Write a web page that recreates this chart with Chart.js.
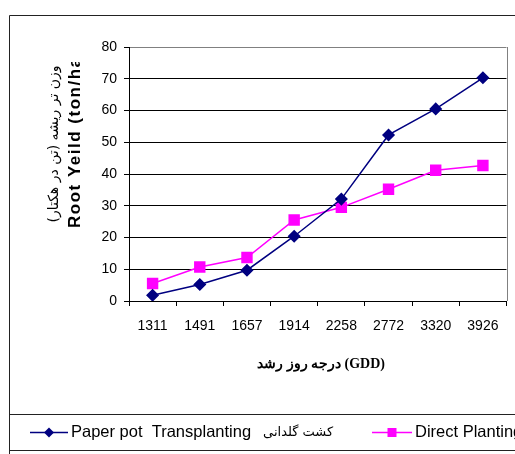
<!DOCTYPE html>
<html>
<head>
<meta charset="utf-8">
<script src="https://cdn.jsdelivr.net/npm/chart.js@4.4.1/dist/chart.umd.min.js"></script>
<style>
  html, body { margin: 0; padding: 0; background: #fff; }
  #wrap { position: relative; width: 515px; height: 454px; }
</style>
</head>
<body>
<div id="wrap"><canvas id="c" width="515" height="454"></canvas></div>
<script>
// Growing degree days (GDD) at each sampling date
const categories = ['1311', '1491', '1657', '1914', '2258', '2772', '3320', '3926'];
// Root yield (ton/ha)
const paperPotValues = [1.8, 5.2, 9.7, 20.4, 32.1, 52.3, 60.5, 70.3];
const directValues = [5.5, 10.7, 13.7, 25.5, 29.5, 35.2, 41.2, 42.7];
const yTicks = [0, 10, 20, 30, 40, 50, 60, 70, 80];

const seriesNames = ['Paper pot  Transplanting   کشت گلدانی', 'Direct Planting'];
const yTitleFa = 'وزن تر ریشه (تن در هکتار)';
const yTitleEn = 'Root Yeild (ton/ha)';
const xTitle = 'درجه روز رشد (GDD)';

const NAVY = '#000080';
const PINK = '#FF00FF';

function marker(ctx, style, x, y, r, color) {
  ctx.save();
  ctx.fillStyle = color;
  ctx.beginPath();
  if (style === 'rectRot') {
    ctx.moveTo(x, y - r); ctx.lineTo(x + r, y); ctx.lineTo(x, y + r); ctx.lineTo(x - r, y);
    ctx.closePath();
  } else {
    ctx.rect(x - r, y - r, 2 * r, 2 * r);
  }
  ctx.fill();
  ctx.restore();
}

// Frame, axis titles and the legend strip
const decor = {
  id: 'decor',
  afterDraw(chart) {
    const ctx = chart.ctx;
    const a = chart.chartArea;
    ctx.save();
    // outer border
    ctx.strokeStyle = '#222';
    ctx.lineWidth = 1;
    ctx.beginPath();
    ctx.moveTo(9.5, 454); ctx.lineTo(9.5, 15.5); ctx.lineTo(515, 15.5);
    ctx.moveTo(9.5, 414.5); ctx.lineTo(515, 414.5);
    ctx.moveTo(9.5, 450.5); ctx.lineTo(515, 450.5);
    ctx.stroke();
    // right side of plot area
    ctx.strokeStyle = '#808080';
    ctx.beginPath();
    ctx.moveTo(Math.round(a.right) + 0.5, a.top); ctx.lineTo(Math.round(a.right) + 0.5, a.bottom);
    ctx.stroke();

    // y-axis titles (rotated), clipped at the top like the source layout
    ctx.save();
    ctx.beginPath();
    ctx.rect(20, 62, 100, 200);
    ctx.clip();
    ctx.fillStyle = '#000';
    ctx.translate(54, 144);
    ctx.rotate(-Math.PI / 2);
    ctx.direction = 'rtl';
    ctx.textAlign = 'center';
    ctx.textBaseline = 'middle';
    ctx.font = '14px "DejaVu Sans"';
    ctx.fillText(yTitleFa, 0, 0);
    ctx.restore();

    ctx.save();
    ctx.beginPath();
    ctx.rect(20, 62, 100, 200);
    ctx.clip();
    ctx.fillStyle = '#000';
    ctx.translate(75, 228);
    ctx.rotate(-Math.PI / 2);
    ctx.textAlign = 'left';
    ctx.textBaseline = 'middle';
    ctx.font = 'bold 17px "Liberation Sans"';
    if ('letterSpacing' in ctx) ctx.letterSpacing = '1.5px';
    ctx.fillText(yTitleEn, 0, 0);
    ctx.restore();

    // x-axis title
    ctx.fillStyle = '#000';
    ctx.font = 'bold 14px "Liberation Serif", "DejaVu Serif"';
    ctx.textAlign = 'center';
    ctx.textBaseline = 'middle';
    ctx.fillText(xTitle, 321, 364);

    // legend
    const ly = 432.5;
    const items = [
      { x0: 30, x1: 68, ds: chart.data.datasets[0], r: 5 },
      { x0: 372, x1: 412, ds: chart.data.datasets[1], r: 4.5 }
    ];
    ctx.textAlign = 'left';
    items.forEach(it => {
      ctx.strokeStyle = it.ds.borderColor;
      ctx.lineWidth = 1.5;
      ctx.beginPath();
      ctx.moveTo(it.x0, ly); ctx.lineTo(it.x1, ly);
      ctx.stroke();
      marker(ctx, it.ds.pointStyle, (it.x0 + it.x1) / 2, ly, it.r, it.ds.borderColor);
      ctx.fillStyle = '#000';
      // Latin part of the label, then the Persian part in a smaller face
      const parts = it.ds.label.split('   ');
      ctx.font = '16.5px "Liberation Sans"';
      ctx.fillText(parts[0], it.x1 + 3, ly);
      if (parts[1]) {
        const w = ctx.measureText(parts[0]).width;
        ctx.font = '13px "DejaVu Sans"';
        ctx.fillText(parts[1], it.x1 + 3 + w + 12, ly);
      }
    });
    ctx.restore();
  }
};

new Chart(document.getElementById('c'), {
  type: 'line',
  data: {
    labels: categories,
    datasets: [
      {
        label: seriesNames[0],
        data: paperPotValues,
        borderColor: NAVY,
        backgroundColor: NAVY,
        borderWidth: 1.5,
        pointStyle: 'rectRot',
        pointRadius: 5.5,
        pointHoverRadius: 5.5,
        tension: 0
      },
      {
        label: seriesNames[1],
        data: directValues,
        borderColor: PINK,
        backgroundColor: PINK,
        borderWidth: 1.5,
        pointStyle: 'rect',
        pointRadius: 7,
        pointHoverRadius: 7,
        tension: 0
      }
    ]
  },
  options: {
    responsive: false,
    animation: false,
    devicePixelRatio: 1,
    layout: { padding: { top: 47, right: 7, left: 0, bottom: 0 } },
    plugins: { legend: { display: false }, tooltip: { enabled: false } },
    scales: {
      x: {
        offset: true,
        grid: { offset: true, drawOnChartArea: false, drawTicks: true, tickLength: 5, color: '#000' },
        border: { color: '#000', width: 1 },
        ticks: { color: '#000', font: { family: 'Liberation Sans', size: 14 }, padding: 12, maxRotation: 0 },
        afterFit(s) { s.height = 153; }
      },
      y: {
        min: 0,
        max: 80,
        afterBuildTicks(s) { s.ticks = yTicks.map(v => ({ value: v })); },
        grid: {
          color: c => (c.tick && c.tick.value === 80 ? '#808080' : '#000'),
          tickColor: '#000',
          tickLength: 5,
          drawTicks: true
        },
        border: { color: '#000', width: 1 },
        ticks: { color: '#000', font: { family: 'Liberation Sans', size: 14 }, padding: 7 },
        afterFit(s) { s.width = 129; }
      }
    }
  },
  plugins: [decor]
});
</script>
</body>
</html>
